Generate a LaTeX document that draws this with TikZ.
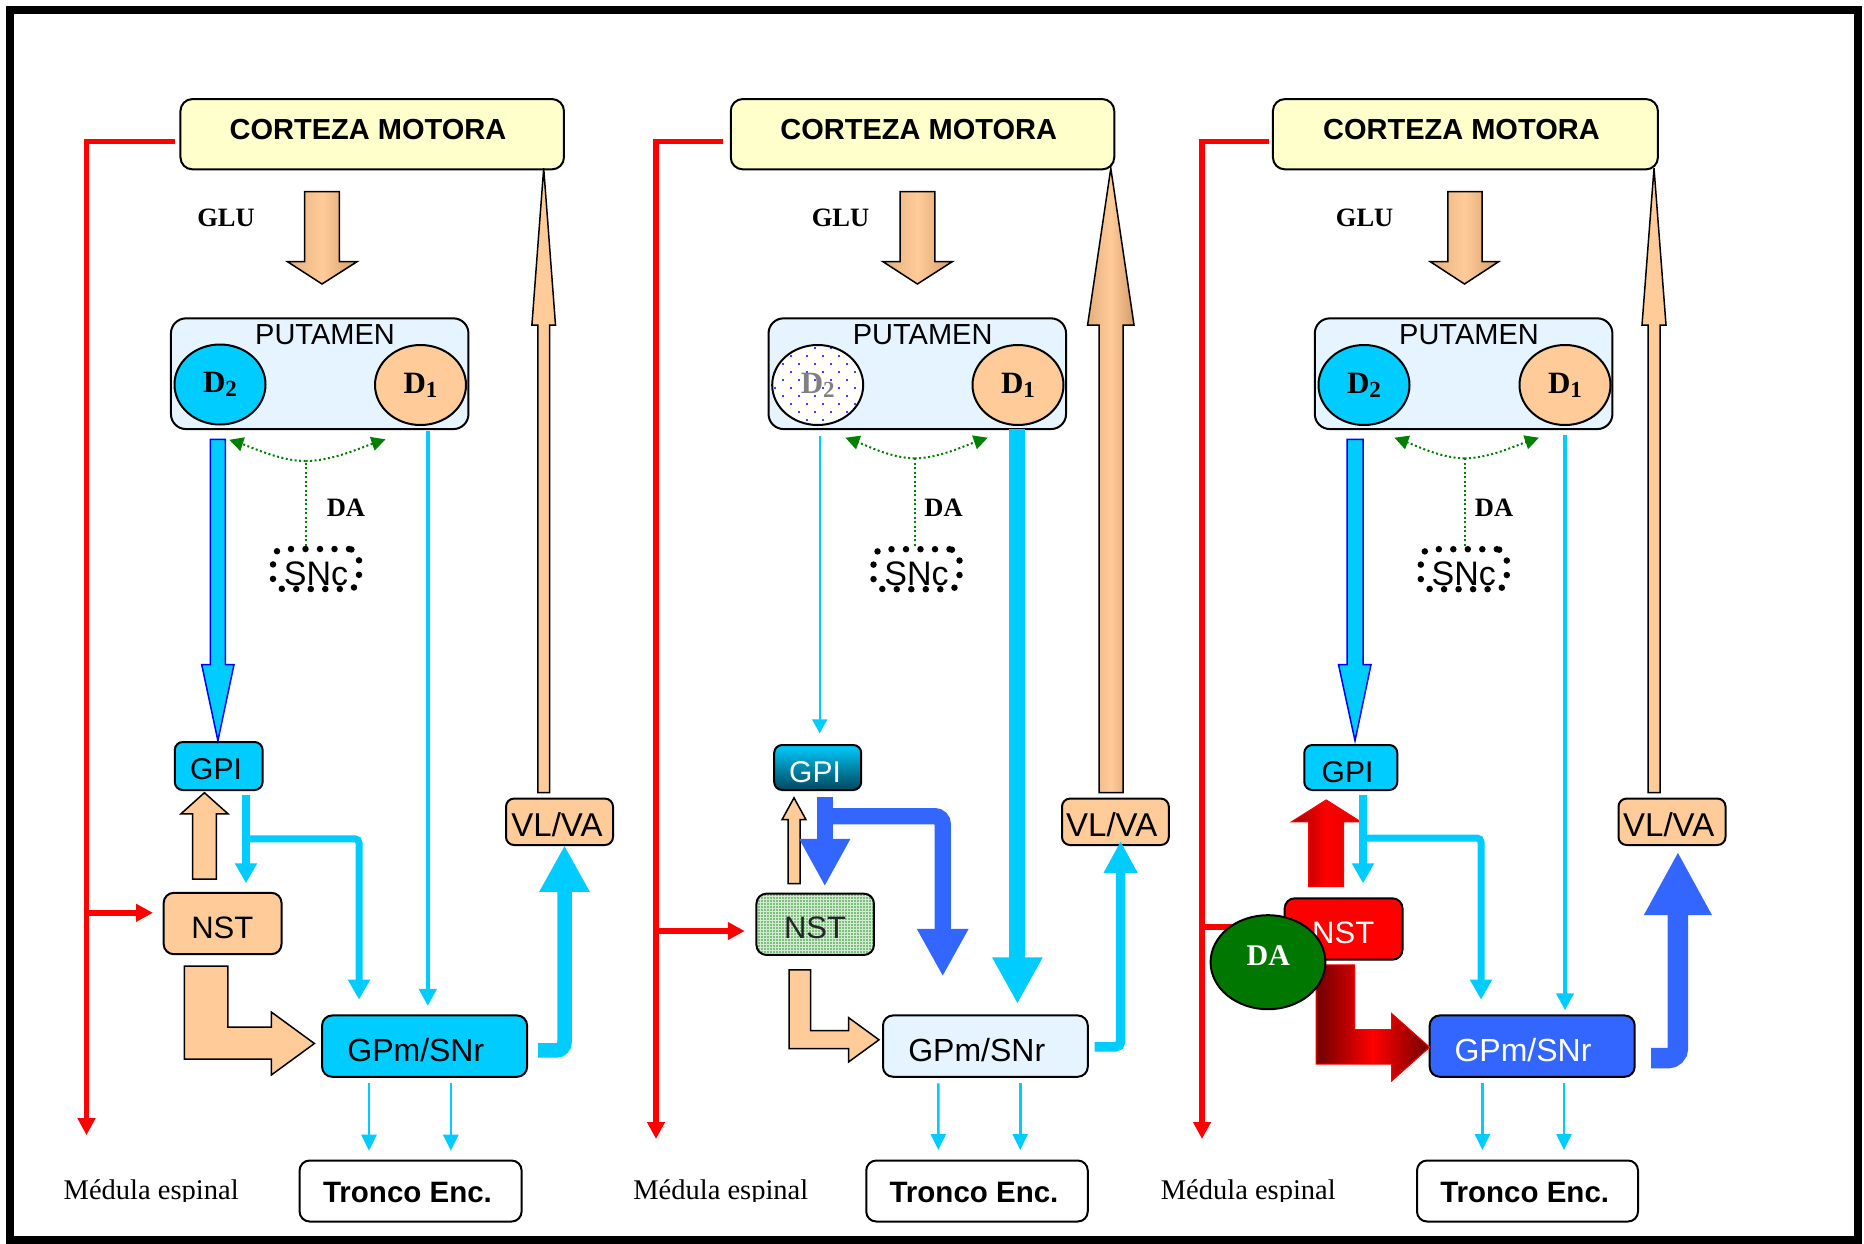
\documentclass[tikz,border=0pt]{standalone}
\usepackage{fontspec}
\setmainfont{Liberation Sans}
\newfontfamily\tnr{Liberation Serif}
\usetikzlibrary{arrows.meta,patterns.meta,shapes.geometric,calc}
\newcommand\fsz[1]{\fontsize{#1}{#1}\selectfont}
\newcommand\dlabel[1]{{\tnr\bfseries\fsz{31}D\raisebox{-4pt}{\fsz{23}#1}}}
\newcommand\snctext{\raisebox{-5pt}[\height][\depth]{SNc}}

\definecolor{cyanb}{HTML}{00CCFF}
\definecolor{peach}{HTML}{FFCC99}
\definecolor{paleyel}{HTML}{FFFFCC}
\definecolor{paleblue}{RGB}{230,244,255}
\definecolor{royal}{HTML}{3366FF}
\definecolor{pureblue}{HTML}{0000FF}
\definecolor{dagreen}{HTML}{008000}
\definecolor{daball}{RGB}{0,120,0}
\definecolor{tanL}{HTML}{E2AF7E}
\definecolor{tanR}{HTML}{D49C68}
\definecolor{nstgreen}{HTML}{D0EDD0}
\definecolor{dotgreen}{HTML}{2E8B2E}
\definecolor{gpimid}{RGB}{0,135,170}
\definecolor{gpidark}{RGB}{0,72,96}
\definecolor{redA}{HTML}{990000}
\definecolor{redB}{HTML}{DD0000}
\definecolor{redC}{HTML}{700000}

\tikzset{
  box/.style={draw, line width=2pt, rounded corners=10pt, inner sep=0pt},
  cortex/.style={box, fill=paleyel, rounded corners=12pt, minimum width=383.5pt, minimum height=70.3pt},
  putbox/.style={box, fill=paleblue, rounded corners=15pt, minimum width=297.5pt, minimum height=110.7pt},
  recep/.style={ellipse, draw, line width=2pt, inner sep=0pt, minimum width=91pt, minimum height=80pt},
  dotbox/.style={draw, line width=6.5pt, dash pattern=on 0pt off 14.5pt, line cap=round,
    rounded corners=10pt, minimum width=86pt, minimum height=40pt, inner sep=0pt, font=\fsz{34}},
  gpibox/.style={box, rounded corners=8pt, minimum height=45pt},
  nstbox/.style={box, minimum width=117.8pt, minimum height=61.3pt},
  gpmbox/.style={box, minimum width=205pt, minimum height=61.3pt},
  vlbox/.style={box, fill=peach, rounded corners=8pt, minimum width=107pt, minimum height=46.4pt},
  trbox/.style={box, fill=white, minimum width=222pt, minimum height=61pt},
  lbl/.style={anchor=base, inner sep=0pt},
  hd/.style={lbl, font=\fsz{29}\bfseries},
  sans/.style={lbl, font=\fsz{#1}},
  serifb/.style={lbl, font=\tnr\bfseries\fsz{26.5}},
  med/.style={lbl, font=\tnr\fsz{28.5}},
  trlbl/.style={lbl, font=\fsz{29.5}\bfseries},
  redline/.style={draw=red, line width=5.5pt, -{Triangle[width=17pt,length=17pt]}},
  cyanhair/.style={draw=cyanb, line width=2pt, -{Triangle[width=15pt,length=14pt]}},
  cyanthin/.style={draw=cyanb, line width=2.6pt, -{Triangle[width=15pt,length=16pt]}},
  cyanmed/.style={draw=cyanb, line width=4.5pt, -{Triangle[width=17pt,length=17pt]}},
  cyanmid/.style={draw=cyanb, line width=7.5pt, -{Triangle[width=21pt,length=20pt]}},
  dapath/.style={draw=dagreen, line width=2pt, dash pattern=on 2pt off 2.5pt},
  datip/.style={dapath, -{Triangle[width=14pt,length=14pt]}},
  peachblock/.style={draw, line width=1.5pt, fill=peach, line join=miter},
  tanshade/.style={draw, line width=1.5pt, left color=tanL, right color=tanR, middle color=peach, line join=miter},
  bluebar/.style={draw=pureblue, fill=cyanb, line width=1.5pt, line join=miter},
}

\begin{document}
\begin{tikzpicture}[x=1pt,y=-1pt]
\useasboundingbox (0,0) rectangle (1864,1243);
\fill[white] (0,0) rectangle (1864,1243);
\draw[line width=8pt] (10,10) rectangle (1858,1240);

% ================= left panel =================
\node[cortex] (c1) at (372.2,134.2) {};
\node[hd] (c1l) at (368,139.3) {CORTEZA MOTORA};
\node[serifb] (glu1) at (226,226.7) {GLU};
\node[putbox] (put1) at (319.7,373.7) {};
\node[sans=29] (put1l) at (325,344.3) {PUTAMEN};
\node[recep, fill=cyanb] (d2a) at (220,384.5) {\dlabel{2}};
\node[recep, fill=peach] (d1a) at (420.5,385) {\dlabel{1}};
\node[dotbox] (snc1) at (316,569) {\snctext};
\node[serifb] (da1) at (346,516.7) {DA};
\node[gpibox, fill=cyanb, minimum width=87.8pt, minimum height=48pt] (gpi1) at (218.7,766) {};
\node[sans=30] (gpi1l) at (216,779.6) {GPI};
\node[nstbox, fill=peach] (nst1) at (222.6,923.5) {};
\node[sans=31] (nst1l) at (222.3,938) {NST};
\node[gpmbox, fill=cyanb] (gpm1) at (424.6,1046.1) {};
\node[sans=32] (gpm1l) at (415.8,1061) {GPm/SNr};
\node[vlbox] (vl1) at (559.5,821.8) {};
\node[sans=33] (vl1l) at (557,836.7) {VL/VA};
\node[trbox] (tr1) at (410.6,1191) {};
\node[trlbl] (tr1l) at (407.5,1202.4) {Tronco Enc.};

% block arrows
\path[tanshade] (304.5,191.7) -- (339.3,191.7) -- (339.3,261.7) -- (357,261.7) -- (322,284)
  -- (287.5,261.7) -- (304.5,261.7) -- cycle;
\path[bluebar] (210.4,439.3) -- (225.4,439.3) -- (225.4,664.6) -- (234,664.6) -- (217.9,740.7)
  -- (201.7,664.6) -- (210.4,664.6) -- cycle;
\path[peachblock] (537.8,792.7) -- (549.6,792.7) -- (549.6,325) -- (555.5,325) -- (543.7,168.3)
  -- (531.9,325) -- (537.8,325) -- cycle;
\path[peachblock] (192.6,879) -- (216.3,879) -- (216.3,813.8) -- (228,813.8) -- (204.4,792.7)
  -- (181,813.8) -- (192.6,813.8) -- cycle;
\path[peachblock] (184.3,966) -- (227.8,966) -- (227.8,1027) -- (271.3,1027) -- (271.3,1012)
  -- (314.4,1043.5) -- (271.3,1075) -- (271.3,1059) -- (184.3,1059) -- cycle;

% connectors
\coordinate (sp1) at (86.5,1135.2);
\coordinate (br1) at (86.5,912.8);
\draw[redline] ($(c1.west)+(-4.3,7.5)$) -| (sp1);
\draw[redline] (br1) -- ($(nst1.west)+(-9.7,-10.7)$);
\draw[cyanmed] ($(d1a.south)+(7.3,5)$) -- ($(gpm1.north)+(3.2,-8.5)$);
\coordinate (j1) at (305.6,461);
\draw[dapath] ($(snc1.north)+(-10.4,0)$) -- (j1);
\draw[datip] (j1) .. controls (280.4,461) and (252.2,447.4) .. ($(d2a.south)+(9.3,14.3)$);
\draw[datip] (j1) .. controls (332,461) and (361.6,447.4) .. ($(d1a.south)+(-35,13.3)$);
\draw[cyanmid] ($(gpi1.south)+(27.3,3.5)$) -- ($(nst1.north)+(23.4,-8.6)$);
\coordinate (g1b) at (246,838.8);
\draw[cyanmid, line width=7pt, rounded corners=4pt] (g1b) -| ($(gpm1.north)+(-65.6,-14.8)$);
\draw[cyanb, line width=14.5pt, -{Triangle[width=47pt,length=46.5pt]}, rounded corners=8pt]
  ($(gpm1.east)+(10,4.3)$) -| ($(vl1.south)+(5,-0.7)$);
\draw[cyanthin] ($(gpm1.south)+(-55.6,5.5)$) -- ($(tr1.north)+(-41.6,-8.8)$);
\draw[cyanthin] ($(gpm1.south)+(26.2,5.5)$) -- ($(tr1.north)+(40.2,-8.8)$);

% ================= middle panel =================
\node[cortex] (c2) at (922.5,134.2) {};
\node[hd] (c2l) at (918.7,139.3) {CORTEZA MOTORA};
\node[serifb] (glu2) at (840.5,226.7) {GLU};
\node[putbox] (put2) at (917.3,373.7) {};
\node[sans=29] (put2l) at (922.7,344.3) {PUTAMEN};
\node[recep, preaction={fill=white}, pattern={Dots[distance=11.3pt, angle=45, radius=1.3pt]},
  pattern color=blue!75, text=gray] (d2b) at (817.7,385) {\dlabel{2}};
\node[recep, fill=peach] (d1b) at (1018,385) {\dlabel{1}};
\node[dotbox] (snc2) at (916.5,569.2) {\snctext};
\node[serifb] (da2) at (943.6,516.7) {DA};
\node[gpibox, top color=cyanb, bottom color=gpidark, middle color=gpimid, minimum width=87pt] (gpi2) at (817.7,767.5) {};
\node[sans=30, text=white] (gpi2l) at (815,782) {GPI};
\node[nstbox, preaction={fill=nstgreen}, pattern={Dots[distance=3pt, radius=0.8pt]},
  pattern color=dotgreen, minimum width=117.5pt] (nst2) at (815.2,924.3) {};
\node[sans=31, text=black!85] (nst2l) at (815,938.6) {NST};
\node[gpmbox, fill=paleblue, minimum width=204.8pt] (gpm2) at (985.4,1046.1) {};
\node[sans=32] (gpm2l) at (976.7,1061) {GPm/SNr};
\node[vlbox, minimum width=106.8pt] (vl2) at (1115.4,821.8) {};
\node[sans=33] (vl2l) at (1111.7,836.7) {VL/VA};
\node[trbox, minimum width=221.5pt] (tr2) at (977,1191) {};
\node[trlbl] (tr2l) at (974,1202.4) {Tronco Enc.};

% block arrows
\path[tanshade] (900,191.7) -- (934.8,191.7) -- (934.8,261.7) -- (952.2,261.7) -- (917.4,284)
  -- (883,261.7) -- (900,261.7) -- cycle;
\path[tanshade] (1099,792.7) -- (1123,792.7) -- (1123,325) -- (1134,325) -- (1110.8,168.3)
  -- (1087.6,325) -- (1099,325) -- cycle;
\path[peachblock] (788,883.6) -- (800,883.6) -- (800,819.7) -- (806,819.7) -- (794,797.8)
  -- (782,819.7) -- (788,819.7) -- cycle;
\path[peachblock] (789.2,969.9) -- (810.6,969.9) -- (810.6,1030.7) -- (848.5,1030.7) -- (848.5,1017.6)
  -- (879,1039.8) -- (848.5,1062) -- (848.5,1048.5) -- (789.2,1048.5) -- cycle;

% connectors
\coordinate (sp2) at (656,1139);
\coordinate (br2) at (656,931);
\draw[redline] ($(c2.west)+(-7,7.5)$) -| (sp2);
\draw[redline] (br2) -- ($(nst2.west)+(-10.7,6.7)$);
\draw[cyanhair] ($(d2b.south)+(2,10)$) -- ($(gpi2.north)+(2,-10.7)$);
\draw[cyanb, line width=16pt, -{Triangle[width=47pt,length=46.6pt]}]
  ($(d1b.south)+(-0.6,3)$) -- ($(gpm2.north)+(32,-10.5)$);
\coordinate (j2) at (914.6,458.3);
\draw[dapath] ($(snc2.north)+(-1.9,0)$) -- (j2);
\draw[datip] (j2) .. controls (891.8,458.3) and (866.2,445.3) .. ($(d2b.south)+(27.7,11.7)$);
\draw[datip] (j2) .. controls (938.7,458.3) and (965.8,445.3) .. ($(d1b.south)+(-30.3,11.7)$);
\draw[royal, line width=16pt, -{Triangle[width=47.5pt,length=47.5pt]}]
  ($(gpi2.south)+(7.1,5.6)$) -- ($(nst2.north)+(9.6,-6.3)$);
\coordinate (g2b) at (824.8,816.2);
\draw[royal, line width=16.4pt, -{Triangle[width=48pt,length=47.5pt]}, rounded corners=8pt]
  (g2b) -| ($(gpm2.north)+(-42.7,-38)$);
\draw[cyanb, line width=9.5pt, -{Triangle[width=31.6pt,length=31.8pt]}, rounded corners=5pt]
  ($(gpm2.east)+(5.9,0.7)$) -| ($(vl2.south)+(5.2,-5)$);
\draw[cyanthin] ($(gpm2.south)+(-47.1,5.5)$) -- ($(tr2.north)+(-38.7,-9.5)$);
\draw[cyanthin] ($(gpm2.south)+(34.8,5.5)$) -- ($(tr2.north)+(43.2,-9.5)$);

% ================= right panel =================
\node[cortex, minimum width=385pt] (c3) at (1465.4,134.2) {};
\node[hd] (c3l) at (1461.4,139.3) {CORTEZA MOTORA};
\node[serifb] (glu3) at (1364.6,226.7) {GLU};
\node[putbox, minimum width=297.6pt] (put3) at (1463.6,373.7) {};
\node[sans=29] (put3l) at (1469,344.3) {PUTAMEN};
\node[recep, fill=cyanb] (d2c) at (1364,385) {\dlabel{2}};
\node[recep, fill=peach] (d1c) at (1565,385) {\dlabel{1}};
\node[dotbox] (snc3) at (1463.8,569.2) {\snctext};
\node[serifb] (da3) at (1494,516.7) {DA};
\node[gpibox, fill=cyanb, minimum width=93pt] (gpi3) at (1350.8,767.5) {};
\node[sans=30] (gpi3l) at (1347.5,782) {GPI};
\node[nstbox, fill=red] (nst3) at (1343.6,929) {};
\node[sans=31, text=white] (nst3l) at (1343.2,943.6) {NST};
\node[gpmbox, fill=royal] (gpm3) at (1532.2,1046.1) {};
\node[sans=32, text=white] (gpm3l) at (1523,1061) {GPm/SNr};
\node[vlbox] (vl3) at (1672,821.8) {};
\node[sans=33] (vl3l) at (1668.7,836.7) {VL/VA};
\node[trbox, minimum width=221pt] (tr3) at (1527.5,1191) {};
\node[trlbl] (tr3l) at (1524.7,1202.4) {Tronco Enc.};

% block arrows
\path[tanshade] (1447.8,191.7) -- (1482,191.7) -- (1482,261.7) -- (1498.6,261.7) -- (1464.5,284)
  -- (1430.3,261.7) -- (1447.8,261.7) -- cycle;
\path[bluebar] (1347,439.3) -- (1363,439.3) -- (1363,664.6) -- (1371,664.6) -- (1355,740.7)
  -- (1338.5,664.6) -- (1347,664.6) -- cycle;
\path[peachblock] (1648,792.7) -- (1660,792.7) -- (1660,325) -- (1666,325) -- (1654,168.3)
  -- (1642,325) -- (1648,325) -- cycle;
\path[draw=red, line width=1pt, left color=redA, right color=redB, middle color=red, line join=miter]
  (1308.7,886.6) -- (1343.6,886.6) -- (1343.6,821.9) -- (1361,821.9) -- (1326.2,799.9)
  -- (1291.3,821.9) -- (1308.7,821.9) -- cycle;
\path[draw=red, line width=1pt, left color=redC, right color=redC, middle color=red, line join=miter]
  (1316,964.8) -- (1354.5,964.8) -- (1354.5,1029.5) -- (1391.6,1029.5) -- (1391.6,1013.4)
  -- (1429.6,1047.2) -- (1391.6,1081) -- (1391.6,1064) -- (1316,1064) -- cycle;

% connectors
\coordinate (sp3) at (1202,1139);
\coordinate (br3) at (1202,927);
\draw[redline] ($(c3.west)+(-3,7.5)$) -| (sp3);
\draw[redline] (br3) -- ($(nst3.west)+(0,-2)$);
\draw[cyanmed] ($(d1c.south)+(0,9)$) -- ($(gpm3.north)+(32.8,-4.2)$);
\coordinate (j3) at (1464.5,458.3);
\draw[dapath] ($(snc3.north)+(0.7,0)$) -- (j3);
\draw[datip] (j3) .. controls (1441.4,458.3) and (1415.4,445.3) .. ($(d2c.south)+(30.4,11.7)$);
\draw[datip] (j3) .. controls (1489,458.3) and (1516.6,445.3) .. ($(d1c.south)+(-26.1,11.7)$);
\draw[cyanmid] ($(gpi3.south)+(12.2,3.5)$) -- ($(nst3.north)+(19.4,-14)$);
\coordinate (g3b) at (1363,838);
\draw[cyanmid, line width=7pt, rounded corners=4pt] (g3b) -| ($(gpm3.north)+(-51.2,-14.8)$);
\draw[royal, line width=20.5pt, -{Triangle[width=63pt,length=63.4pt]}, rounded corners=10pt]
  ($(gpm3.east)+(15.3,12.1)$) -| ($(vl3.south)+(5.9,5.6)$);
\draw[cyanthin] ($(gpm3.south)+(-49.8,5.5)$) -- ($(tr3.north)+(-45.1,-9.5)$);
\draw[cyanthin] ($(gpm3.south)+(31.8,5.5)$) -- ($(tr3.north)+(36.5,-9.5)$);

% dopamine ball over the subthalamic nucleus
\node[ellipse, draw, line width=2pt, fill=daball, inner sep=0pt, minimum width=114.8pt, minimum height=94pt] (dae) at (1268,962.2) {};
\node[lbl, font=\tnr\bfseries\fsz{30}, text=white] (dael) at (1268.3,965.6) {DA};

% spinal cord labels (lower edge trimmed)
\begin{scope}
  \clip (0,0) rectangle (1864,1201);
  \node[med] (med1) at (151.2,1199.5) {Médula espinal};
  \node[med] (med2) at (720.8,1199.5) {Médula espinal};
  \node[med] (med3) at (1248.3,1199.5) {Médula espinal};
\end{scope}
\end{tikzpicture}
\end{document}
